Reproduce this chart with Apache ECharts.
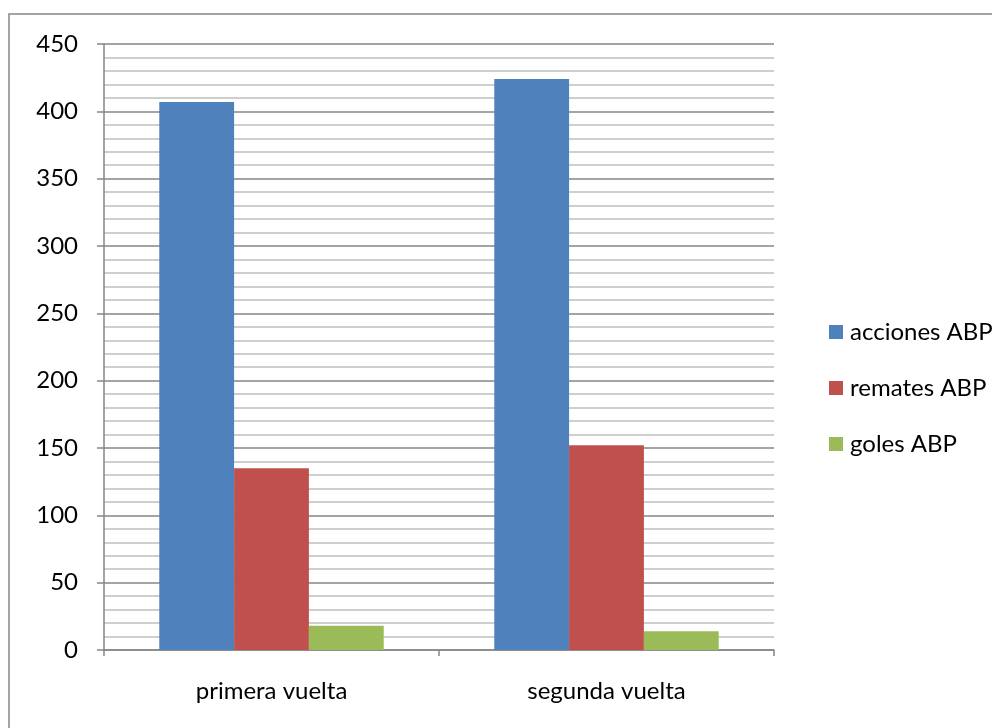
<!DOCTYPE html>
<html>
<head>
<meta charset="utf-8">
<script src="https://cdn.jsdelivr.net/npm/echarts@6/dist/echarts.min.js"></script>
<style>
  html, body { margin: 0; padding: 0; background: #fff; }
  #chart-container { width: 992px; height: 728px; }
</style>
</head>
<body>
<div id="chart-container"></div>
<script>
const categories = ['primera vuelta', 'segunda vuelta'];
const seriesNames = ['acciones ABP', 'remates ABP', 'goles ABP'];
const acciones = [407, 424];
const remates = [135, 152];
const goles = [18, 14];

var chartDom = document.getElementById('chart-container');
var myChart = echarts.init(chartDom);
var option;

const font = 'Lato, "Open Sans", sans-serif';

option = {
    animation: false,
    color: ['#4F81BD', '#C0504D', '#9BBB59'],
    textStyle: { fontFamily: font },
    graphic: [
        {
            type: 'rect',
            shape: { x: 9, y: 14, width: 1200, height: 1000 },
            style: { fill: 'none', stroke: '#868686', lineWidth: 1.5 },
            silent: true
        }
    ],
    legend: {
        orient: 'vertical',
        left: 824,
        top: 315,
        itemWidth: 14,
        itemHeight: 14,
        itemGap: 32,
        icon: 'rect',
        textStyle: { fontSize: 24, lineHeight: 24, color: '#000', fontFamily: font, padding: [0, 0, 0, 2] },
        data: seriesNames
    },
    grid: {
        left: 104,
        right: 218,
        top: 44,
        bottom: 78
    },
    xAxis: {
        type: 'category',
        data: categories,
        axisLine: { lineStyle: { color: '#868686', width: 1.5 } },
        axisTick: { show: true, length: 6, lineStyle: { color: '#868686', width: 1.5 } },
        axisLabel: { fontSize: 24, color: '#000', margin: 29, fontFamily: font }
    },
    yAxis: {
        type: 'value',
        min: 0,
        max: 450,
        interval: 50,
        axisLine: { show: true, lineStyle: { color: '#868686', width: 1.5 } },
        axisTick: { show: true, length: 7, lineStyle: { color: '#868686', width: 1.5 } },
        axisLabel: { fontSize: 24, color: '#000', margin: 26, fontFamily: font },
        splitLine: { lineStyle: { color: '#868686', width: 1.5 } },
        minorTick: { show: false, splitNumber: 5 },
        minorSplitLine: { show: true, lineStyle: { color: '#BFBFBF', width: 1.5 } }
    },
    series: [
        {
            name: seriesNames[0],
            type: 'bar',
            barGap: '0%',
            barCategoryGap: '33%',
            data: acciones
        },
        {
            name: seriesNames[1],
            type: 'bar',
            barGap: '0%',
            barCategoryGap: '33%',
            data: remates
        },
        {
            name: seriesNames[2],
            type: 'bar',
            barGap: '0%',
            barCategoryGap: '33%',
            data: goles
        }
    ]
};

option && myChart.setOption(option);
</script>
</body>
</html>
